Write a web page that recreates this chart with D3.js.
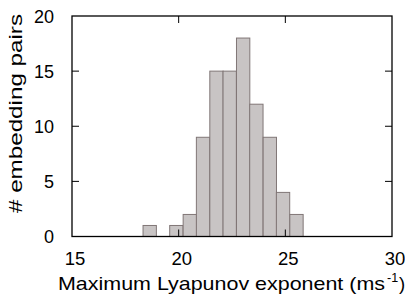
<!DOCTYPE html>
<html>
<head>
<meta charset="utf-8">
<script src="https://cdn.jsdelivr.net/npm/d3@7"></script>
<style>
  body { margin: 0; background: #fff; }
  text { font-family: "Liberation Sans", Arial, sans-serif; fill: #000; }
</style>
</head>
<body>
<svg width="405" height="297"></svg>
<script>
const width = 405;
const height = 297;
const margin = {top: 16, right: 13, bottom: 60.5, left: 72};

// histogram bins (left edge, in ms^-1) and counts
const binLeft = [18.33, 18.96, 19.58, 20.21, 20.83, 21.46, 22.08, 22.71, 23.33, 23.96, 24.58, 25.21];
const binWidth = 0.625;
const counts = [1, 0, 1, 2, 9, 15, 15, 18, 12, 9, 4, 2];
const xTicks = [15, 20, 25, 30];
const yTicks = [0, 5, 10, 15, 20];

const svg = d3.select('svg');
const x = d3.scaleLinear([15, 30], [margin.left, width - margin.right]);
const y = d3.scaleLinear([0, 20], [height - margin.bottom, margin.top]);
const tickLen = 7;

const bins = counts.map((c, i) => ({x0: binLeft[i], x1: binLeft[i] + binWidth, count: c}))
  .filter(b => b.count > 0);

// bars
svg.append('g').attr('id', 'bars')
  .selectAll('rect')
  .data(bins)
  .join('rect')
    .attr('x', d => x(d.x0))
    .attr('y', d => y(d.count))
    .attr('width', d => x(d.x1) - x(d.x0))
    .attr('height', d => y(0) - y(d.count))
    .attr('fill', '#c8c4c4')
    .attr('stroke', '#807676')
    .attr('stroke-width', 1);

// inward ticks on all four sides (gnuplot style)
const ticks = svg.append('g').attr('id', 'ticks').attr('stroke', '#000').attr('stroke-width', 1);
xTicks.slice(1, -1).forEach(t => {
  ticks.append('line').attr('x1', x(t)).attr('x2', x(t)).attr('y1', y(0)).attr('y2', y(0) - tickLen);
  ticks.append('line').attr('x1', x(t)).attr('x2', x(t)).attr('y1', y(20)).attr('y2', y(20) + tickLen);
});
yTicks.slice(1, -1).forEach(t => {
  ticks.append('line').attr('x1', x(15)).attr('x2', x(15) + tickLen).attr('y1', y(t)).attr('y2', y(t));
  ticks.append('line').attr('x1', x(30)).attr('x2', x(30) - tickLen).attr('y1', y(t)).attr('y2', y(t));
});

// frame
svg.append('rect')
  .attr('x', x(15)).attr('y', y(20))
  .attr('width', x(30) - x(15)).attr('height', y(0) - y(20))
  .attr('fill', 'none').attr('stroke', '#000').attr('stroke-width', 1.3);

// tick labels
svg.append('g').selectAll('text').data(xTicks).join('text')
  .attr('x', d => x(d) + 3).attr('y', 265)
  .attr('text-anchor', 'middle').attr('font-size', '18.5px')
  .text(d => d);

svg.append('g').selectAll('text').data(yTicks).join('text')
  .attr('x', 54).attr('y', d => y(d) + 6.5)
  .attr('text-anchor', 'end').attr('font-size', '18px')
  .text(d => d);

// axis labels
svg.append('text')
  .attr('x', 58).attr('y', 290)
  .attr('font-size', '18.5px')
  .attr('textLength', 327).attr('lengthAdjust', 'spacingAndGlyphs')
  .text('Maximum Lyapunov exponent (ms');
svg.append('text')
  .attr('x', 387).attr('y', 282)
  .attr('font-size', '12.5px')
  .text('-1');
svg.append('text')
  .attr('x', 399).attr('y', 290)
  .attr('font-size', '18.5px')
  .text(')');

svg.append('text')
  .attr('transform', `translate(22 ${113.5}) rotate(-90)`)
  .attr('text-anchor', 'middle').attr('font-size', '18.5px')
  .attr('textLength', 199).attr('lengthAdjust', 'spacingAndGlyphs')
  .text('# embedding pairs');
</script>
</body>
</html>
